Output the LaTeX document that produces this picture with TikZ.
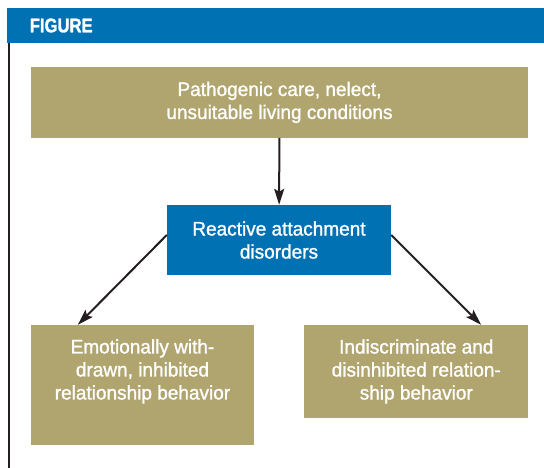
\documentclass[tikz,border=0pt]{standalone}
\usepackage{fontspec}
\setmainfont{Liberation Sans}
\newfontfamily\figfont{Liberation Sans}[FakeStretch=0.84, FakeBold=1.5]
\newfontfamily\boxfont{Liberation Sans}[FakeStretch=0.97, FakeBold=1.2]
\usetikzlibrary{arrows.meta}
\definecolor{figblue}{RGB}{0,113,179}
\definecolor{figtan}{RGB}{176,165,111}
\definecolor{figink}{RGB}{35,31,32}

\begin{document}
\begin{tikzpicture}[
  x=1pt, y=-1pt,
  box/.style={
    rectangle, fill=figtan, text=white, inner sep=0pt,
    align=center, font=\boxfont\fontsize{19.6}{23}\selectfont
  },
  keybox/.style={box, fill=figblue},
  link/.style={
    draw=figink, line width=2pt,
    -{Stealth[length=16pt, width=10pt, inset=3pt]}
  }
]
  \useasboundingbox (0,0) rectangle (544,468);
  \fill[figblue] (7.3,8) rectangle (544,42.7);
  \draw[figink, line width=2.6pt] (9,42.7) -- (9,468);
  \node[anchor=base west, text=white, inner sep=0pt,
    font=\figfont\bfseries\fontsize{19.8}{20}\selectfont] (title) at (29.6,32.3) {FIGURE};
  \node[box, minimum width=497pt, minimum height=70.7pt] (cause) at (279.5,102.4)
    {Pathogenic care, nelect,\\unsuitable living conditions};
  \node[keybox, minimum width=224pt, minimum height=70pt] (rad) at (279,240)
    {Reactive attachment\\disorders};
  \node[box, minimum width=223pt, minimum height=120pt, text depth=31.3pt] (withdrawn) at (142.5,385)
    {Emotionally with-\\drawn, inhibited\\relationship behavior};
  \node[box, minimum width=224pt, minimum height=92.7pt, text depth=4pt] (disinhib) at (416.3,371.4)
    {Indiscriminate and\\disinhibited relation-\\ship behavior};
  \draw[link] (cause) -- (rad);
  \draw[link] ([yshift=5pt]rad.west) -- ([xshift=47pt]withdrawn.north west);
  \draw[link] ([yshift=5pt]rad.east) -- ([xshift=-47.3pt]disinhib.north east);
\end{tikzpicture}
\end{document}
